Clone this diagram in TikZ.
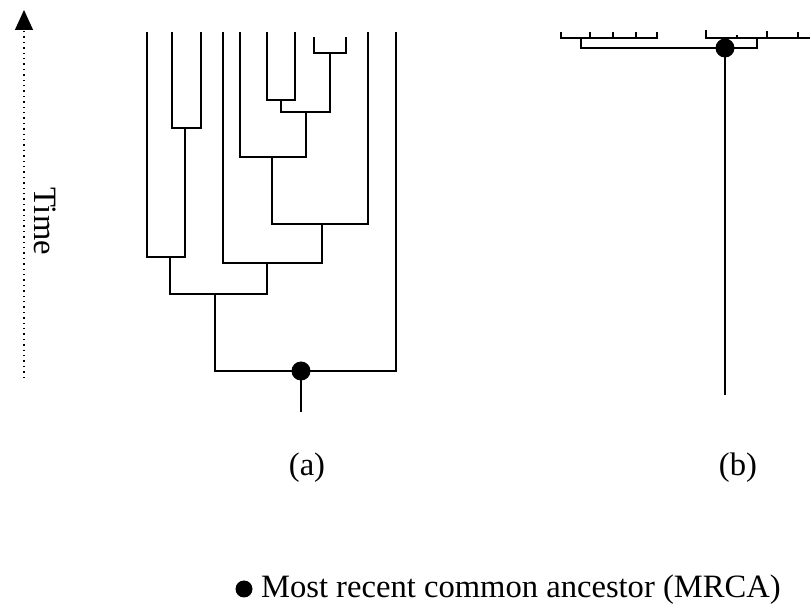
\documentclass[tikz,border=0pt]{standalone}
\usepackage{fontspec}
\setmainfont{Liberation Serif}
\usetikzlibrary{arrows.meta}

\begin{document}
\begin{tikzpicture}[
    x=0.5pt, y=-0.5pt,
    branch/.style={line width=1pt, black},
    mrca/.style={circle, fill=black, inner sep=0pt, minimum size=9.5pt},
    lbl/.style={font=\fontsize{16.3}{19}\selectfont},
    timearr/.style={dotted, line width=0.7pt, -{Triangle[length=10pt, width=9pt]}}
]
\useasboundingbox (0,0) rectangle (810,604);

% time axis
\coordinate (t0) at (24,378);
\coordinate (t1) at (24,10);
\draw[timearr] (t0) -- (t1);
\node[lbl, rotate=-90] (time) at (45,221) {Time};

% (a) tips
\coordinate (l1) at (147,32);
\coordinate (l2) at (172,32);
\coordinate (l3) at (201,32);
\coordinate (l4) at (223,32);
\coordinate (l5) at (240,32);
\coordinate (l6) at (267,32);
\coordinate (l7) at (295,32);
\coordinate (l8) at (314,37);
\coordinate (l9) at (346,37);
\coordinate (l10) at (368,32);
\coordinate (l11) at (396,32);
% (a) splits
\coordinate (n23) at (185,128);
\coordinate (n123) at (170,257);
\coordinate (n67) at (281,100);
\coordinate (n89) at (330,53);
\coordinate (n69) at (306,112);
\coordinate (n59) at (272,157);
\coordinate (n510) at (322,224);
\coordinate (n410) at (267,263);
\coordinate (n110) at (215,294);
\coordinate (rootA) at (301,371);
\coordinate (stemA) at (301,412);

\draw[branch] (n23) -| (l2) (n23) -| (l3);
\draw[branch] (n123) -| (l1) (n123) -| (n23);
\draw[branch] (n67) -| (l6) (n67) -| (l7);
\draw[branch] (n89) -| (l8) (n89) -| (l9);
\draw[branch] (n69) -| (n67) (n69) -| (n89);
\draw[branch] (n59) -| (l5) (n59) -| (n69);
\draw[branch] (n510) -| (n59) (n510) -| (l10);
\draw[branch] (n410) -| (l4) (n410) -| (n510);
\draw[branch] (n110) -| (n123) (n110) -| (n410);
\draw[branch] (rootA) -| (n110) (rootA) -| (l11);
\draw[branch] (rootA) -- (stemA);
\node[mrca] (mrcaA) at (rootA) {};
\node[lbl] (capA) at (307,468) {(a)};

% (b) star-like tree
\coordinate (b1) at (561,32);
\coordinate (b2) at (590,32);
\coordinate (b3) at (613,32);
\coordinate (b4) at (636,32);
\coordinate (b5) at (657,32);
\coordinate (b6) at (706,30);
\coordinate (b7) at (737,35);
\coordinate (b8) at (767,31);
\coordinate (b9) at (798,32);
\coordinate (bend) at (810,38);
\coordinate (gL) at (581,38);
\coordinate (gR) at (757,38);
\coordinate (rootB) at (725,48);
\coordinate (stemB) at (725,395);

\draw[branch] (gL) -| (b1) (gL) -| (b2) (gL) -| (b3) (gL) -| (b4) (gL) -| (b5);
\draw[branch] (gR) -| (b6) (gR) -| (b7) (gR) -| (b8) (gR) -| (b9) (gR) -- (bend);
\draw[branch] (rootB) -| (gL) (rootB) -| (gR);
\draw[branch] (rootB) -- (stemB);
\node[mrca] (mrcaB) at (rootB) {};
\node[lbl] (capB) at (738,468) {(b)};

% legend
\node[mrca, minimum size=8.5pt] (key) at (244,589) {};
\node[lbl, anchor=west] (keytext) at (254,590) {Most recent common ancestor (MRCA)};
\end{tikzpicture}
\end{document}
